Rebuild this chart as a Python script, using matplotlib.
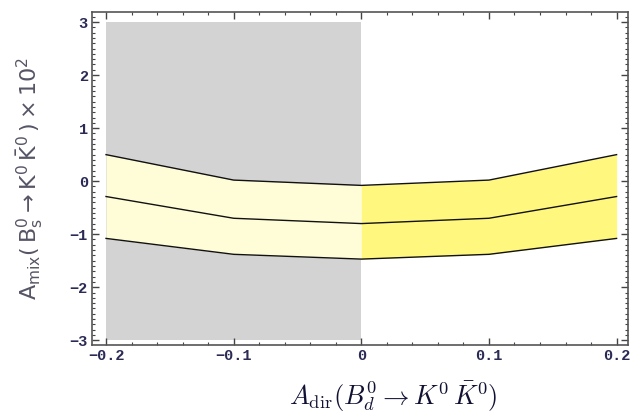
import numpy as np
import matplotlib
matplotlib.use("Agg")
import matplotlib.pyplot as plt
from matplotlib.ticker import MultipleLocator

# data
a_dir = [-0.2, -0.1, 0.0, 0.1, 0.2]
a_mix_upper = [0.50, 0.02, -0.08, 0.02, 0.50]
a_mix_mid = [-0.29, -0.70, -0.80, -0.70, -0.29]
a_mix_lower = [-1.08, -1.38, -1.47, -1.38, -1.08]
excluded_x = [-0.2, 0.0]
excluded_y = [-3.0, 3.0]

fig = plt.figure(figsize=(6.37, 4.19), dpi=100)
ax = fig.add_axes([0.1444, 0.1766, 0.8416, 0.7948])

# excluded (gray) region
ax.fill_between(excluded_x, excluded_y[0], excluded_y[1], color="#d3d3d3", lw=0, zorder=1)

x = np.array(a_dir)
left = x <= 0
right = x >= 0
ax.fill_between(x, a_mix_lower, a_mix_upper, where=left, color="#fffcd8", lw=0, zorder=2)
ax.fill_between(x, a_mix_lower, a_mix_upper, where=right, color="#fff77e", lw=0, zorder=2)

for y in (a_mix_upper, a_mix_mid, a_mix_lower):
    ax.plot(x, y, color="#111111", lw=1.0, zorder=3)

ax.set_xlim(-0.211, 0.209)
ax.set_ylim(-3.09, 3.19)

ax.xaxis.set_minor_locator(MultipleLocator(0.02))
ax.yaxis.set_minor_locator(MultipleLocator(0.1))
ax.set_xticks(a_dir)
ax.set_xticklabels(["\u22120.2", "\u22120.1", "0", "0.1", "0.2"])
ax.set_yticks([-3, -2, -1, 0, 1, 2, 3])
ax.set_yticklabels(["\u22123", "\u22122", "\u22121", "0", "1", "2", "3"])

ax.tick_params(which="both", direction="in", top=True, right=True, color="#444444")
ax.tick_params(which="major", length=5, width=1.0, labelsize=11, labelcolor="#2a2a55", pad=3)
ax.tick_params(which="minor", length=2.5, width=0.8)
for lab in ax.get_xticklabels() + ax.get_yticklabels():
    lab.set_family("Liberation Mono")
    lab.set_weight("bold")

for sp in ax.spines.values():
    sp.set_color("#555555")
    sp.set_linewidth(1.2)

ax.set_xlabel(r"$A_{\rm dir}(B_d^0 \rightarrow K^0\,\bar{K}^0)$", fontsize=19,
              color="#111133", math_fontfamily="cm")
ax.xaxis.set_label_coords(0.562, -0.105)
ax.set_ylabel(r"$\mathsf{A_{mix}(\,B_s^0 \rightarrow K^0\,\bar{K}^0\,)\times10^2}$", fontsize=16,
              color="#555566", math_fontfamily="dejavusans")
ax.yaxis.set_label_coords(-0.088, 0.5)

fig.savefig("out.png", dpi=100)
